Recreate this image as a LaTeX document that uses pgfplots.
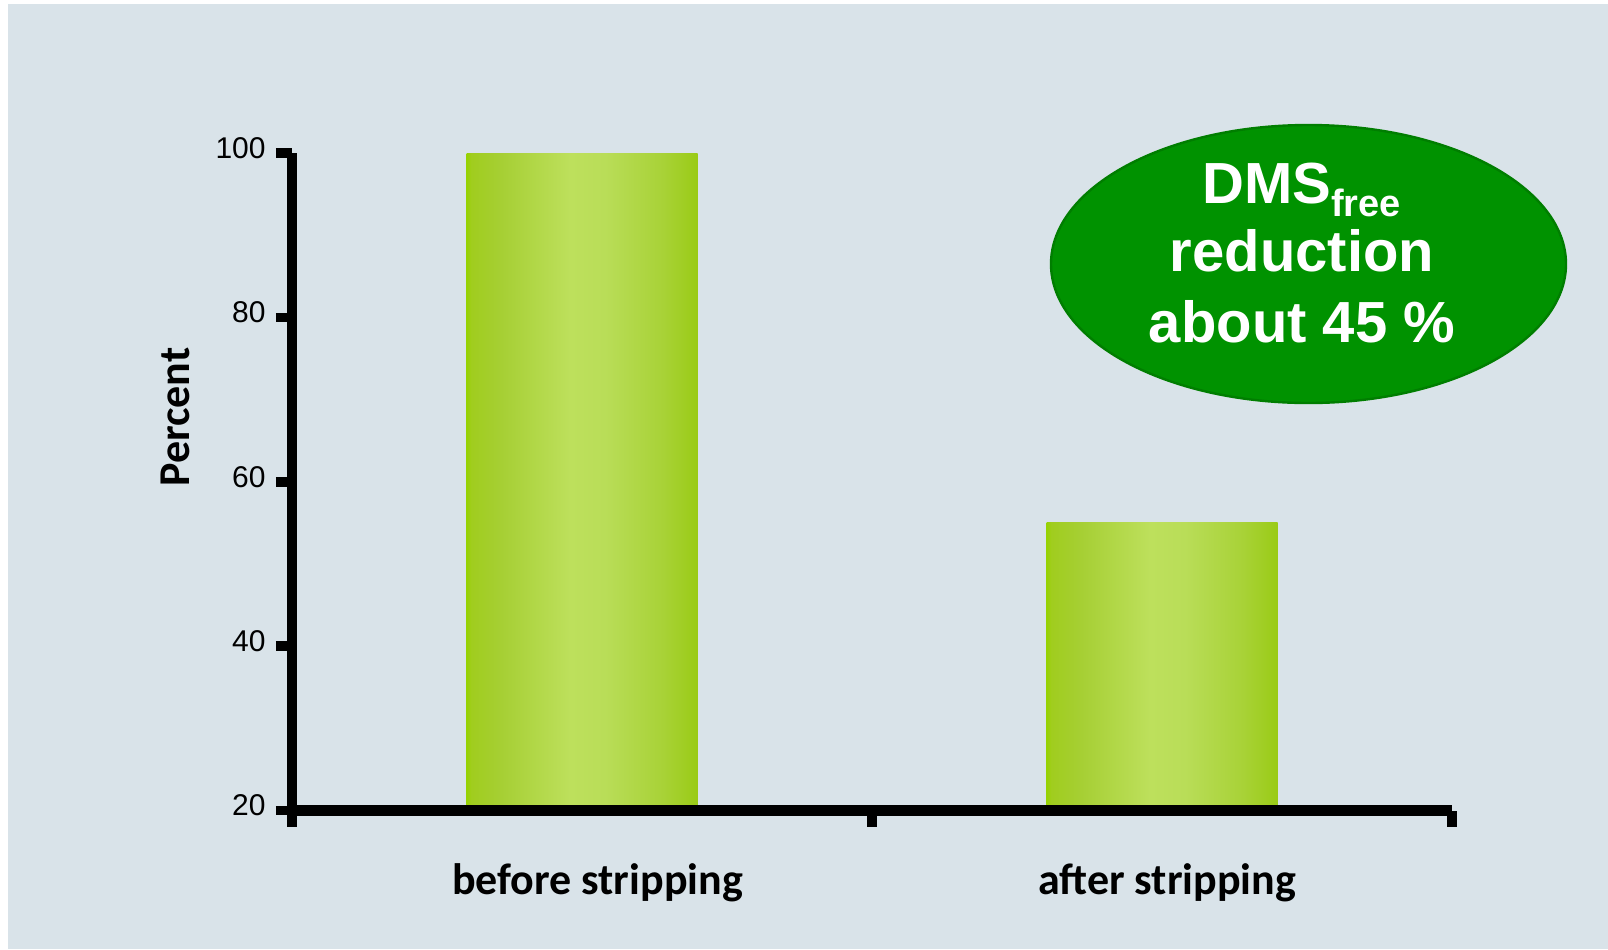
\documentclass[border=0pt]{standalone}
\usepackage{fontspec}
\setmainfont{Liberation Sans}
\newfontfamily\carlito{Carlito}
\usepackage{pgfplots}
\pgfplotsset{compat=1.18}
\definecolor{bg}{RGB}{217,227,233}
\definecolor{ellfill}{RGB}{0,146,0}
\definecolor{elldraw}{RGB}{0,126,0}
\definecolor{bA}{RGB}{150,210,0}
\definecolor{bB}{RGB}{160,205,30}
\definecolor{bC}{RGB}{166,207,52}
\definecolor{bD}{RGB}{189,224,92}
\definecolor{bE}{RGB}{185,221,88}
\definecolor{bF}{RGB}{168,210,55}
\definecolor{bG}{RGB}{154,203,22}
\pgfdeclarehorizontalshading{barshade}{100bp}{color(0bp)=(bA); color(25bp)=(bA); color(26bp)=(bB); color(32.5bp)=(bC); color(47.5bp)=(bD); color(55bp)=(bE); color(67.5bp)=(bF); color(75bp)=(bG); color(100bp)=(bG)}
\begin{document}
\begin{tikzpicture}[x=1pt,y=1pt]
\useasboundingbox (0,0) rectangle (804,-474.5);
\fill[white] (0,0) rectangle (804,-474.5);
\fill[bg] (4,-2) rectangle (804,-474.5);
\begin{axis}[
  at={(146pt,-405.25pt)}, anchor=south west,
  scale only axis, width=580pt, height=328.75pt,
  xmin=-0.5, xmax=1.5, ymin=20, ymax=100,
  axis x line=bottom, axis y line=left,
  axis line style={-, line width=5.25pt, black},
  axis on top,
  xtick={-0.5,0.5,1.5}, xticklabels={},
  extra x ticks={0.0267,1.0086},
  extra x tick labels={before stripping, after stripping},
  extra x tick style={major tick length=0pt,
     tick label style={font=\carlito\bfseries\fontsize{22}{22}\selectfont, anchor=base, inner sep=0pt, yshift=-41.75pt}},
  ytick={20,40,60,80,100},
  tick align=outside, major tick length=8pt,
  tick style={line width=4.75pt, black},
  /pgf/number format/assume math mode=true,
  yticklabel style={font=\fontsize{15}{15}\selectfont, anchor=east, inner sep=0pt, xshift=-5pt, yshift=2.5pt},
  ylabel={Percent},
  ylabel style={font=\carlito\bfseries\fontsize{22}{22}\selectfont, at={(axis description cs:-0.10086,0.5985)}, anchor=center, rotate=0},
]
\addplot[ybar, bar width=115.5pt, bar shift=0pt, draw=none, shading=barshade] coordinates {(0,100)};
\addplot[ybar, bar width=115.5pt, bar shift=0pt, draw=none, shading=barshade] coordinates {(1,55)};
\end{axis}
\draw[elldraw, fill=ellfill, line width=1.2pt] (654.25,-132) ellipse [x radius=128.75, y radius=69.5];
\node[anchor=base, text=white, font=\bfseries\fontsize{29}{29}\selectfont, inner sep=0pt] at (650.75,-101.5) {DMS\raisebox{-6.5pt}{\fontsize{19}{19}\selectfont free}};
\node[anchor=base, text=white, font=\bfseries\fontsize{29}{29}\selectfont, inner sep=0pt] at (651,-135.5) {reduction};
\node[anchor=base, text=white, font=\bfseries\fontsize{29}{29}\selectfont, inner sep=0pt] at (651,-171) {about 45 \%};
\end{tikzpicture}
\end{document}
